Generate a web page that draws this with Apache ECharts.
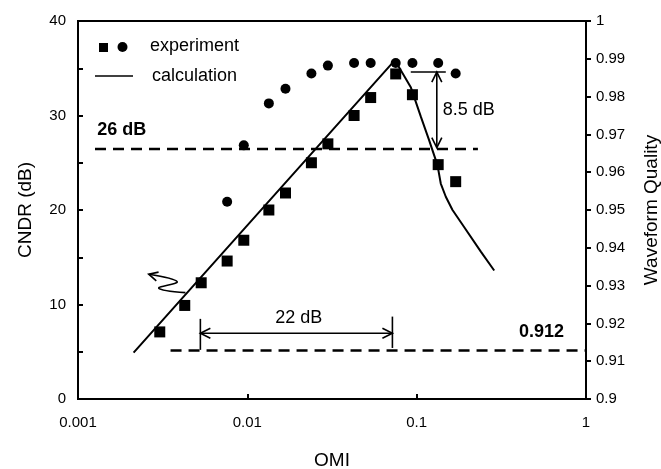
<!DOCTYPE html>
<html><head><meta charset="utf-8">
<script src="https://cdn.jsdelivr.net/npm/echarts@6/dist/echarts.min.js"></script>
<style>html,body{margin:0;padding:0;background:#fff}#c{width:661px;height:469px}</style>
</head><body><div id="c"></div>
<script>
// ---- data ----
const xTickLabels = ['0.001', '0.01', '0.1', '1'];
const sqOmi  = [0.00304, 0.00427, 0.00534, 0.0076, 0.00953, 0.0134, 0.0168, 0.0239, 0.0299, 0.0427, 0.0535, 0.0752, 0.0944, 0.134, 0.170];
const sqCndr = [7.1, 9.9, 12.3, 14.6, 16.8, 20.0, 21.8, 25.0, 27.0, 30.0, 31.9, 34.4, 32.2, 24.8, 23.0];
const ciOmi  = [0.0076, 0.00953, 0.0134, 0.0168, 0.0239, 0.0299, 0.0427, 0.0535, 0.0752, 0.0944, 0.134, 0.170];
const ciWq   = [0.9522, 0.9671, 0.9782, 0.9821, 0.9861, 0.9882, 0.9889, 0.9889, 0.9889, 0.9889, 0.9889, 0.9861];
const calcOmi  = [0.00213, 0.0722, 0.0770, 0.0923, 0.1057, 0.1184, 0.1327, 0.1388, 0.1486, 0.1628, 0.1906, 0.2393, 0.287];
const calcCndr = [4.9, 35.6, 35.4, 33.0, 29.9, 27.4, 24.75, 22.8, 21.4, 20.0, 18.2, 15.6, 13.6];
const line26Omi = [0.00126, 0.23];  const line26Db = 26.45;
const line912Omi = [0.00352, 1];    const line912Wq = 0.9128;
const arrow22Omi = [0.00528, 0.0719]; const arrow22Wq = 0.9174;
const bar22WqLeft = [0.9212, 0.9130]; const bar22WqRight = [0.9218, 0.9135];
const arrow85Omi = 0.1315; const arrow85Db = [34.6, 26.6]; const bar85Omi = [0.0923, 0.1486];
const squiggleOmi = [0.00431, 0.0030, 0.00385, 0.002616];
const squiggleDb  = [11.26, 11.73, 12.42, 13.21];
const lbl26 = {text: '26 dB', omi: 0.0013, db: 28.45};
const lbl912 = {text: '0.912', omi: 0.741, wq: 0.9178};
const lbl22 = {text: '22 dB', omi: 0.0201, wq: 0.9215};
const lbl85 = {text: '8.5 dB', omi: 0.1427, db: 30.57};

const FONT = 'Liberation Sans, Arial, Helvetica, sans-serif';
const chart = echarts.init(document.getElementById('c'));
const zip = (a, b) => a.map((v, i) => [v, b[i]]);

chart.setOption({
  animation: false,
  backgroundColor: '#fff',
  grid: {left: 78, right: 75, top: 21, bottom: 70, containLabel: false, outerBoundsMode: 'none',
    show: true, borderColor: '#000', borderWidth: 2, backgroundColor: 'transparent'},
  xAxis: {
    type: 'log', logBase: 10, min: 0.001, max: 1,
    axisLine: {lineStyle: {color: '#000', width: 2}},
    axisTick: {inside: true, length: 5, lineStyle: {color: '#000', width: 2}},
    splitLine: {show: false},
    axisLabel: {color: '#000', fontSize: 15, fontFamily: FONT, margin: 16,
      formatter: v => xTickLabels[Math.round(Math.log10(v)) + 3]},
    name: 'OMI', nameLocation: 'middle', nameGap: 52,
    nameTextStyle: {color: '#000', fontSize: 19, fontFamily: FONT}
  },
  yAxis: [{
    type: 'value', position: 'left', min: 0, max: 40, interval: 5,
    axisLine: {show: true, lineStyle: {color: '#000', width: 2}},
    axisTick: {show: true, inside: true, length: 5, lineStyle: {color: '#000', width: 2}},
    splitLine: {show: false},
    axisLabel: {color: '#000', fontSize: 15, fontFamily: FONT, margin: 12,
      formatter: v => (v % 10 === 0 ? String(v) : '')},
    name: 'CNDR (dB)', nameLocation: 'middle', nameGap: 43, nameRotate: 90,
    nameTextStyle: {color: '#000', fontSize: 19, fontFamily: FONT}
  }, {
    type: 'value', position: 'right', min: 0.9, max: 1, interval: 0.01,
    axisLine: {show: true, lineStyle: {color: '#000', width: 2}},
    axisTick: {show: true, inside: false, length: 5, lineStyle: {color: '#000', width: 2}},
    splitLine: {show: false},
    axisLabel: {color: '#000', fontSize: 15, fontFamily: FONT, margin: 10,
      formatter: v => String(parseFloat(v.toFixed(2)))},
    name: 'Waveform Quality', nameLocation: 'middle', nameGap: 56, nameRotate: 90,
    nameTextStyle: {color: '#000', fontSize: 19, fontFamily: FONT}
  }],
  series: [{
    name: 'experiment CNDR', type: 'scatter', yAxisIndex: 0, symbol: 'rect', symbolSize: 11,
    itemStyle: {color: '#000', opacity: 1}, z: 5, data: zip(sqOmi, sqCndr)
  }, {
    name: 'experiment WQ', type: 'scatter', yAxisIndex: 1, symbol: 'circle', symbolSize: 10,
    itemStyle: {color: '#000', opacity: 1}, z: 5, data: zip(ciOmi, ciWq)
  }, {
    name: 'calculation', type: 'line', yAxisIndex: 0, showSymbol: false, symbol: 'none',
    lineStyle: {color: '#000', width: 2}, z: 4, data: zip(calcOmi, calcCndr)
  }, {
    name: '26 dB', type: 'line', yAxisIndex: 0, symbol: 'none', silent: true,
    lineStyle: {color: '#000', width: 2.5, type: [11, 7]}, z: 3,
    data: line26Omi.map(x => [x, line26Db])
  }, {
    name: '0.912', type: 'line', yAxisIndex: 1, symbol: 'none', silent: true,
    lineStyle: {color: '#000', width: 2.5, type: [11, 7]}, z: 3,
    data: line912Omi.map(x => [x, line912Wq])
  }]
});

const PL = (x, y) => chart.convertToPixel({seriesIndex: 0}, [x, y]);
const PR = (x, y) => chart.convertToPixel({seriesIndex: 1}, [x, y]);
const stroke = {stroke: '#000', lineWidth: 1.6, fill: null};
function head(tip, from, len, half) {
  const dx = from[0] - tip[0], dy = from[1] - tip[1];
  const d = Math.hypot(dx, dy); const ux = dx / d, uy = dy / d;
  const nx = -uy, ny = ux;
  return {type: 'polyline', z: 10, shape: {points: [
    [tip[0] + ux * len + nx * half, tip[1] + uy * len + ny * half], tip,
    [tip[0] + ux * len - nx * half, tip[1] + uy * len - ny * half]]}, style: stroke};
}
function seg(a, b) { return {type: 'line', z: 10, shape: {x1: a[0], y1: a[1], x2: b[0], y2: b[1]}, style: stroke}; }
function txt(t, p, align, bold) {
  return {type: 'text', z: 10, style: {text: t, x: p[0], y: p[1], fill: '#000', fontSize: 18,
    fontWeight: bold ? 'bold' : 'normal', fontFamily: FONT, align: align, verticalAlign: 'middle'}};
}

const g = [];
// 22 dB arrow
const a1 = PR(arrow22Omi[0], arrow22Wq), a2 = PR(arrow22Omi[1], arrow22Wq);
g.push(seg(a1, a2), head(a1, a2, 10, 5), head(a2, a1, 10, 5));
g.push(seg(PR(arrow22Omi[0], bar22WqLeft[0]), PR(arrow22Omi[0], bar22WqLeft[1])));
g.push(seg(PR(arrow22Omi[1], bar22WqRight[0]), PR(arrow22Omi[1], bar22WqRight[1])));
// 8.5 dB arrow
const b1 = PL(arrow85Omi, arrow85Db[0]), b2 = PL(arrow85Omi, arrow85Db[1]);
g.push(seg(b1, b2), head(b1, b2, 10, 5), head(b2, b1, 10, 5));
g.push(seg(PL(bar85Omi[0], arrow85Db[0]), PL(bar85Omi[1], arrow85Db[0])));
// squiggle arrow
const sq = squiggleOmi.map((x, i) => PL(x, squiggleDb[i]));
g.push({type: 'polyline', z: 10, shape: {points: sq, smooth: 0.4}, style: stroke});
g.push(head(sq[sq.length - 1], sq[sq.length - 2], 9, 4.5));
// labels
g.push(txt(lbl26.text, PL(lbl26.omi, lbl26.db), 'left', true));
g.push(txt(lbl912.text, PR(lbl912.omi, lbl912.wq), 'right', true));
g.push(txt(lbl22.text, PR(lbl22.omi, lbl22.wq), 'center', false));
g.push(txt(lbl85.text, PL(lbl85.omi, lbl85.db), 'left', false));
// legend
g.push({type: 'rect', shape: {x: 99, y: 43, width: 9, height: 9}, style: {fill: '#000'}});
g.push({type: 'circle', shape: {cx: 122.5, cy: 47, r: 5}, style: {fill: '#000'}});
g.push({type: 'text', style: {text: 'experiment', x: 150, y: 46, fill: '#000', fontSize: 18, fontFamily: FONT, verticalAlign: 'middle'}});
g.push({type: 'line', shape: {x1: 95, y1: 76, x2: 133, y2: 76}, style: {stroke: '#000', lineWidth: 1.6}});
g.push({type: 'text', style: {text: 'calculation', x: 152, y: 76, fill: '#000', fontSize: 18, fontFamily: FONT, verticalAlign: 'middle'}});

chart.setOption({graphic: g});
</script></body></html>
